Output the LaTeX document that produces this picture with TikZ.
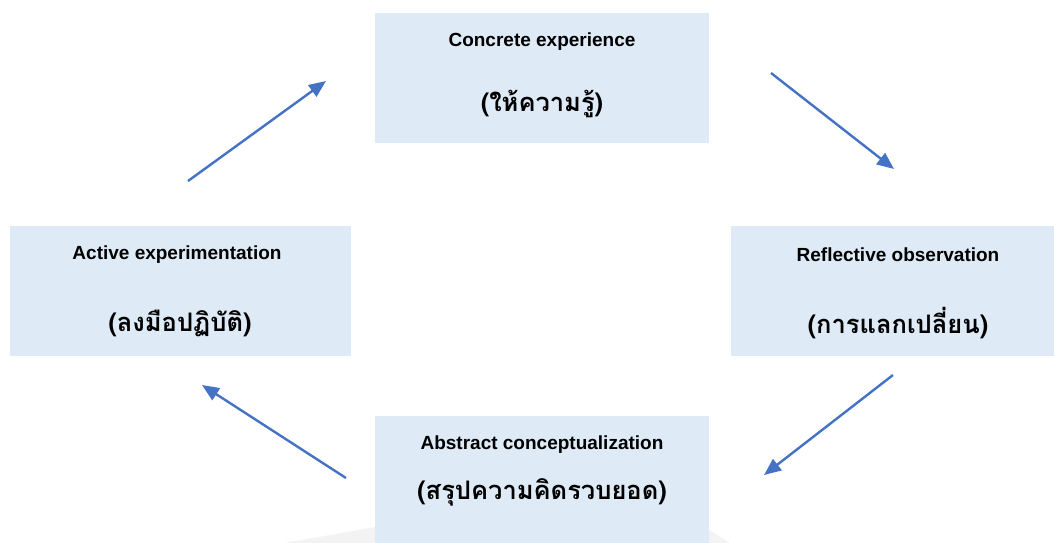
\documentclass[tikz,border=0pt]{standalone}
\usepackage{fontspec}
\setmainfont{Liberation Sans}
\newfontfamily\thaifont[Script=Thai]{Loma}
\usetikzlibrary{arrows.meta}
\definecolor{boxblue}{HTML}{DEEAF6}
\definecolor{arrowblue}{HTML}{4472C4}
\definecolor{faintgray}{HTML}{F3F3F3}
\tikzset{
  stagebox/.style={fill=boxblue, draw=none},
  entext/.style={font=\fontsize{19}{21}\selectfont\bfseries, inner sep=0pt},
  thtext/.style={font=\thaifont\fontsize{25.5}{28}\selectfont\bfseries, inner sep=0pt},
  cyclearrow/.style={draw=arrowblue, line width=2.4pt, -{Triangle[length=17pt,width=14pt]}}
}
\begin{document}
\begin{tikzpicture}[x=1pt,y=-1pt]
\useasboundingbox (0,0) rectangle (1054,543);
% faint shading at bottom
\fill[faintgray] (285,543) -- (375,527) -- (375,543) -- cycle;
\fill[faintgray] (709,530) -- (730,543) -- (709,543) -- cycle;
% boxes
\path[stagebox] (375,13) rectangle (709,143);
\path[stagebox] (10,226) rectangle (351,356);
\path[stagebox] (731,226) rectangle (1054,356);
\path[stagebox] (375,416) rectangle (709,543);
% texts
\node[entext] (ce) at (542,42) {Concrete experience};
\node[thtext] (ceth) at (542,104) {(ให้ความรู้)};
\node[entext] (ae) at (177,255) {Active experimentation};
\node[thtext] (aeth) at (180,323) {(ลงมือปฏิบัติ)};
\node[entext] (ro) at (898,255) {Reflective observation};
\node[thtext] (roth) at (898,323) {(การแลกเปลี่ยน)};
\node[entext] (ac) at (542,445) {Abstract conceptualization};
\node[thtext] (acth) at (542,492) {(สรุปความคิดรวบยอด)};
% arrow end points
\coordinate (a1s) at (771,73);  \coordinate (a1e) at (894,169);
\coordinate (a2s) at (893,375); \coordinate (a2e) at (764,475);
\coordinate (a3s) at (346,478); \coordinate (a3e) at (202,385);
\coordinate (a4s) at (188,181); \coordinate (a4e) at (326,81);
\draw[cyclearrow] (a1s) -- (a1e);
\draw[cyclearrow] (a2s) -- (a2e);
\draw[cyclearrow] (a3s) -- (a3e);
\draw[cyclearrow] (a4s) -- (a4e);
\end{tikzpicture}
\end{document}
